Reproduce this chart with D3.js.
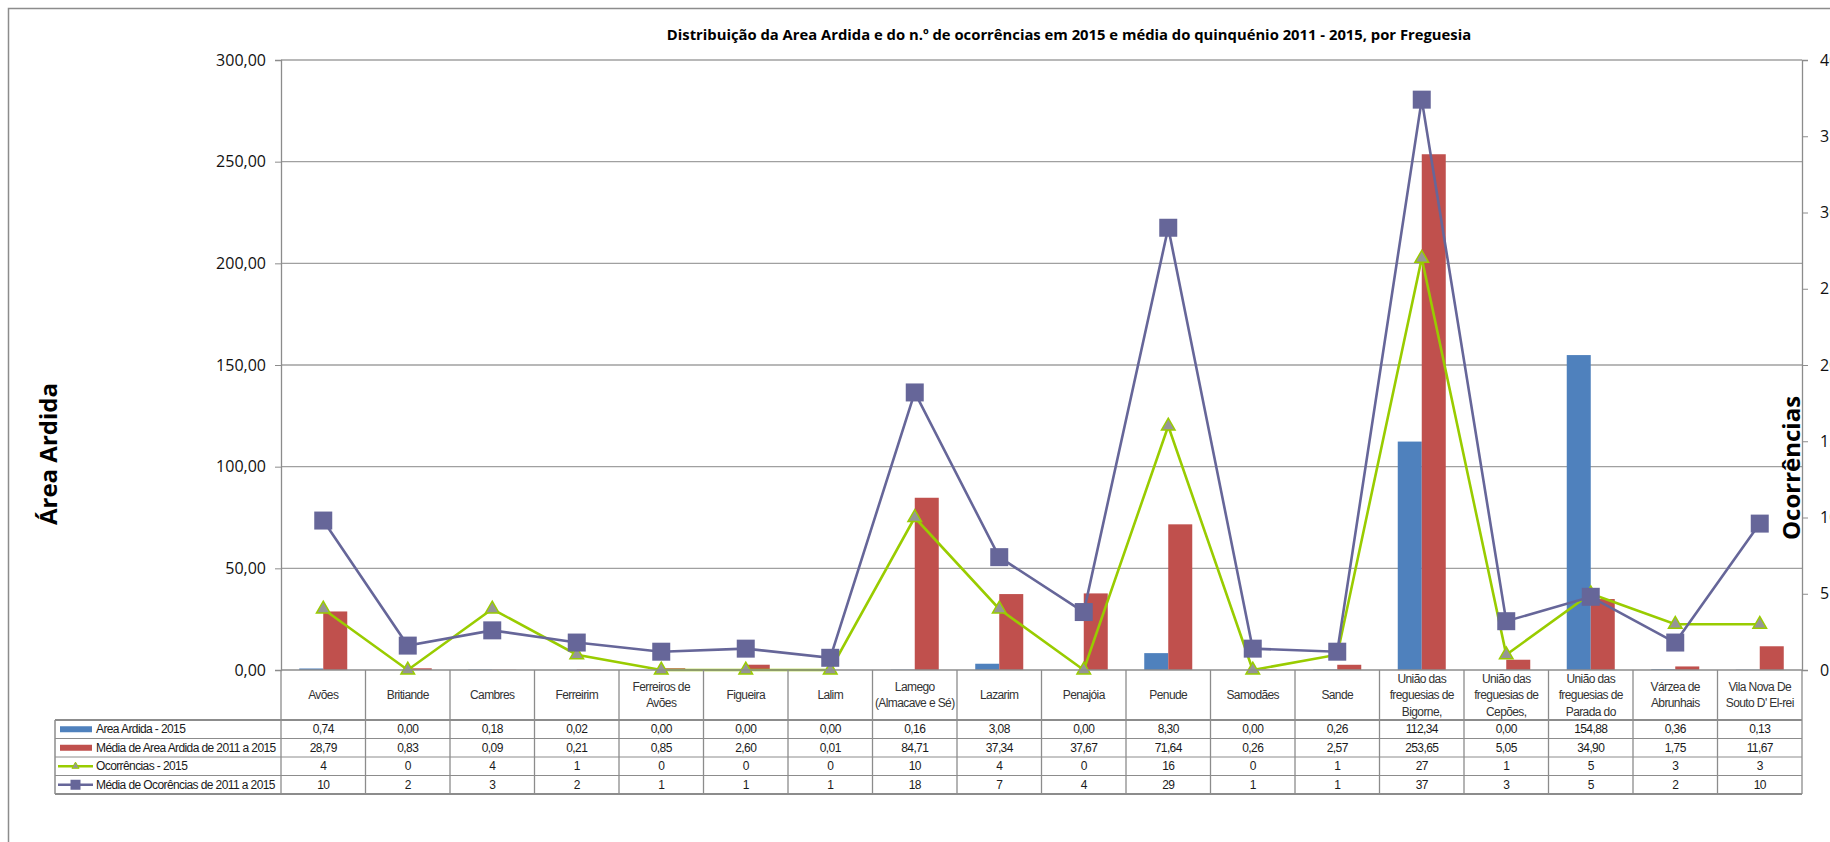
<!DOCTYPE html>
<html>
<head>
<meta charset="utf-8">
<script src="https://cdnjs.cloudflare.com/ajax/libs/d3/7.8.5/d3.min.js"></script>
<style>
body{margin:0;background:#fff;}
svg{display:block;}
.tbl text{font-family:"Liberation Sans",Arial,sans-serif;font-size:12px;letter-spacing:-0.6px;fill:#1a1a1a;}
</style>
</head>
<body>
<div id="chart"></div>
<script>
// dados por freguesia
const categories = ['Avões','Britiande','Cambres','Ferreirim','Ferreiros de Avões','Figueira','Lalim',
    'Lamego (Almacave e Sé)','Lazarim','Penajóia','Penude','Samodães','Sande',
    'União das freguesias de Bigorne,','União das freguesias de Cepões,','União das freguesias de Parada do',
    'Várzea de Abrunhais','Vila Nova De Souto D\' El-rei'];
const areaArdida2015 = [0.74,0.00,0.18,0.02,0.00,0.00,0.00,0.16,3.08,0.00,8.30,0.00,0.26,112.34,0.00,154.88,0.36,0.13];
const mediaAreaArdida = [28.79,0.83,0.09,0.21,0.85,2.60,0.01,84.71,37.34,37.67,71.64,0.26,2.57,253.65,5.05,34.90,1.75,11.67];
const ocorrencias2015 = [4,0,4,1,0,0,0,10,4,0,16,0,1,27,1,5,3,3];
const mediaOcorrencias = [9.8,1.6,2.6,1.8,1.2,1.4,0.8,18.2,7.4,3.8,29.0,1.4,1.2,37.4,3.2,4.8,1.8,9.6];
const seriesNames = ['Area Ardida - 2015','Média de Area Ardida de 2011 a 2015','Ocorrências - 2015','Média de Ocorências de 2011 a 2015'];
const areaTicks = [0,50,100,150,200,250,300];
const ocorrTicks = [0,5,10,15,20,25,30,35,40];

const width = 1830, height = 842;
const margin = {top: 60, left: 281, right: 1802, bottom: 670};
const rowH = 18.5, headBottom = 720, legendLeft = 55;

const pt = d3.formatLocale({decimal: ',', thousands: '.', grouping: [3], currency: ['', '€']});
const f2 = pt.format('.2f'), f0 = pt.format('.0f');

const svg = d3.select('#chart').append('svg').attr('width', width).attr('height', height);

// moldura
svg.append('rect').attr('x', 8.5).attr('y', 8.5).attr('width', 2000).attr('height', 2000)
    .attr('fill', 'none').attr('stroke', '#8c8c8c').attr('stroke-width', 1.5);

svg.append('text').attr('x', 1069).attr('y', 40).attr('text-anchor', 'middle')
    .style('font-family', 'Open Sans').style('font-weight', 'bold').style('font-size', '14.8px')
    .text('Distribuição da Area Ardida e do n.º de ocorrências em 2015 e média do quinquénio 2011 - 2015, por Freguesia');

const x0 = d3.scaleBand().domain(categories).range([margin.left, margin.right]);
const x1 = d3.scaleBand().domain([0, 1]).range([0, x0.bandwidth()]).paddingOuter(0.76);
const yL = d3.scaleLinear().domain([0, 300]).range([margin.bottom, margin.top]);
const yR = d3.scaleLinear().domain([0, 40]).range([margin.bottom, margin.top]);

// grelha
svg.append('g').selectAll('line').data(areaTicks.slice(1)).join('line')
    .attr('x1', margin.left).attr('x2', margin.right)
    .attr('y1', d => yL(d)).attr('y2', d => yL(d))
    .attr('stroke', '#a0a0a0').attr('stroke-width', 1.3);

const axisL = svg.append('g').attr('transform', 'translate(' + margin.left + ',0)')
    .call(d3.axisLeft(yL).tickValues(areaTicks).tickFormat(f2).tickSize(6).tickPadding(9));
const axisR = svg.append('g').attr('transform', 'translate(' + margin.right + ',0)')
    .call(d3.axisRight(yR).tickValues(ocorrTicks).tickFormat(f0).tickSize(6).tickPadding(12));
[axisL, axisR].forEach(a => {
    a.select('.domain').attr('stroke', '#8c8c8c').attr('stroke-width', 1.3);
    a.selectAll('.tick line').attr('stroke', '#8c8c8c');
    a.selectAll('.tick text').style('font-family', 'Open Sans').style('font-size', '16px').attr('fill', '#111');
});

svg.append('text').attr('transform', 'translate(57,454) rotate(-90)').attr('text-anchor', 'middle')
    .style('font-family', 'Open Sans').style('font-weight', 'bold').style('font-size', '24px')
    .text('Área Ardida');
svg.append('text').attr('transform', 'translate(1800,468) rotate(-90)').attr('text-anchor', 'middle')
    .style('font-family', 'Open Sans').style('font-weight', 'bold').style('font-size', '24px')
    .text('Ocorrências');

// barras
const barColors = ['#4f81bd', '#c0504d'];
[areaArdida2015, mediaAreaArdida].forEach((vals, s) => {
    svg.append('g').selectAll('rect').data(vals).join('rect')
        .attr('x', (d, i) => x0(categories[i]) + x1(s))
        .attr('width', x1.bandwidth())
        .attr('y', d => yL(d))
        .attr('height', d => yL(0) - yL(d))
        .attr('fill', barColors[s]);
});

const cx = i => x0(categories[i]) + x0.bandwidth() / 2;
const line = d3.line().x((d, i) => cx(i)).y(d => yR(d));

// ocorrencias 2015
svg.append('path').attr('d', line(ocorrencias2015)).attr('fill', 'none')
    .attr('stroke', '#99cc00').attr('stroke-width', 2.6);
svg.append('g').selectAll('path').data(ocorrencias2015).join('path')
    .attr('transform', (d, i) => 'translate(' + cx(i) + ',' + yR(d) + ')')
    .attr('d', d3.symbol(d3.symbolTriangle).size(80))
    .attr('fill', '#969696').attr('stroke', '#99cc00').attr('stroke-width', 1.5);

// media ocorrencias
svg.append('path').attr('d', line(mediaOcorrencias)).attr('fill', 'none')
    .attr('stroke', '#666699').attr('stroke-width', 2.6);
svg.append('g').selectAll('path').data(mediaOcorrencias).join('path')
    .attr('transform', (d, i) => 'translate(' + cx(i) + ',' + yR(d) + ')')
    .attr('d', d3.symbol(d3.symbolSquare).size(324))
    .attr('fill', '#666699');

// tabela de dados
const tbl = svg.append('g').attr('class', 'tbl');
const rows = [areaArdida2015, mediaAreaArdida, ocorrencias2015, mediaOcorrencias];
const rowFmt = [f2, f2, f0, f0];
const gridC = '#8c8c8c';

const rowY = d3.range(rows.length + 1).map(i => headBottom + i * rowH);
tbl.selectAll('line.h').data(rowY).join('line')
    .attr('x1', legendLeft).attr('x2', margin.right)
    .attr('y1', d => d).attr('y2', d => d)
    .attr('stroke', gridC).attr('stroke-width', (d, i) => (i === 0 || i === rows.length) ? 1.8 : 1);
tbl.selectAll('line.v').data(d3.range(categories.length + 1)).join('line')
    .attr('x1', i => margin.left + i * x0.step()).attr('x2', i => margin.left + i * x0.step())
    .attr('y1', margin.bottom).attr('y2', rowY[rows.length])
    .attr('stroke', gridC).attr('stroke-width', 1.3);
tbl.append('line').attr('x1', legendLeft).attr('x2', legendLeft)
    .attr('y1', headBottom).attr('y2', rowY[rows.length]).attr('stroke', gridC).attr('stroke-width', 1.5);
tbl.append('line').attr('x1', margin.left).attr('x2', margin.right)
    .attr('y1', margin.bottom).attr('y2', margin.bottom).attr('stroke', gridC).attr('stroke-width', 1.3);

// nomes das freguesias (com quebra de linha)
const wrap = (sel, w) => {
    sel.each(function () {
        const t = d3.select(this);
        const words = t.text().split(/\s+/);
        t.text(null);
        const probe = t.append('tspan');
        let lines = [], cur = [];
        words.forEach(word => {
            cur.push(word);
            probe.text(cur.join(' '));
            if (probe.node().getComputedTextLength() > w && cur.length > 1) {
                cur.pop();
                lines.push(cur.join(' '));
                cur = [word];
            }
        });
        lines.push(cur.join(' '));
        probe.remove();
        const lh = 16.5, cy = (margin.bottom + headBottom) / 2;
        lines.forEach((l, i) => t.append('tspan').attr('x', t.attr('x'))
            .attr('y', cy + (i - (lines.length - 1) / 2) * lh + 4).text(l));
    });
};
tbl.selectAll('text.cat').data(categories).join('text')
    .attr('class', 'cat')
    .attr('x', (d, i) => cx(i)).attr('text-anchor', 'middle')
    .style('fill', '#333')
    .text(d => d)
    .call(wrap, 82);

rows.forEach((vals, r) => {
    tbl.append('g').selectAll('text').data(vals).join('text')
        .attr('x', (d, i) => cx(i))
        .attr('y', rowY[r] + rowH / 2 + 4)
        .attr('text-anchor', 'middle')
        .text(d => rowFmt[r](d));
    tbl.append('text').attr('x', 96).attr('y', rowY[r] + rowH / 2 + 4).text(seriesNames[r]);
});

// chaves da legenda
const keyY = r => rowY[r] + rowH / 2;
tbl.append('rect').attr('x', 60).attr('y', keyY(0) - 3).attr('width', 32).attr('height', 6).attr('fill', barColors[0]);
tbl.append('rect').attr('x', 60).attr('y', keyY(1) - 3).attr('width', 32).attr('height', 6).attr('fill', barColors[1]);
tbl.append('line').attr('x1', 58).attr('x2', 93).attr('y1', keyY(2)).attr('y2', keyY(2))
    .attr('stroke', '#99cc00').attr('stroke-width', 2.5);
tbl.append('path').attr('transform', 'translate(75.5,' + keyY(2) + ')')
    .attr('d', d3.symbol(d3.symbolTriangle).size(22)).attr('fill', '#969696').attr('stroke', '#99cc00');
tbl.append('line').attr('x1', 58).attr('x2', 93).attr('y1', keyY(3)).attr('y2', keyY(3))
    .attr('stroke', '#666699').attr('stroke-width', 2.5);
tbl.append('path').attr('transform', 'translate(75.5,' + keyY(3) + ')')
    .attr('d', d3.symbol(d3.symbolSquare).size(100)).attr('fill', '#666699');
</script>
</body>
</html>
